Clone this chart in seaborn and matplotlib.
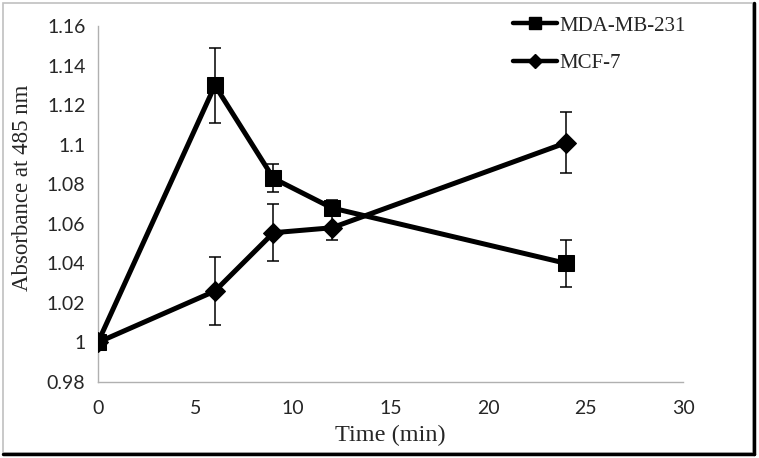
import pandas as pd
import matplotlib.pyplot as plt
import seaborn as sns
from matplotlib.patches import Rectangle
from matplotlib.lines import Line2D

time_min = [0, 6, 9, 12, 24]
mda_mb_231 = [1.000, 1.130, 1.083, 1.068, 1.040]
mda_err = [0.0, 0.019, 0.007, 0.004, 0.012]
mcf_7 = [1.000, 1.026, 1.0555, 1.058, 1.101]
mcf_err = [0.0, 0.017, 0.0145, 0.006, 0.0155]

series_names = ["MDA-MB-231", "MCF-7"]

df = pd.DataFrame({
    "time": time_min * 2,
    "absorbance": mda_mb_231 + mcf_7,
    "err": mda_err + mcf_err,
    "cell": [series_names[0]] * len(time_min) + [series_names[1]] * len(time_min),
})

sns.set_style("white")
plt.rcParams['font.family'] = ['Liberation Serif', 'DejaVu Sans']

fig = plt.figure(figsize=(7.59, 4.58), dpi=100)
ax = fig.add_axes([0.129, 0.166, 0.771, 0.777])

for name in series_names:
    sub = df[df.cell == name]
    ax.errorbar(sub.time, sub.absorbance, yerr=sub.err, fmt='none',
                ecolor='black', elinewidth=1.1, capsize=4.5, capthick=1.1, zorder=2)

# MCF-7 first so the MDA square sits on top at t=0
sns.lineplot(data=df, x="time", y="absorbance", style="cell", style_order=["MCF-7", "MDA-MB-231"],
             markers={"MDA-MB-231": "s", "MCF-7": "D"},
             dashes=False, color="black", linewidth=3.6, markersize=11.5, markeredgecolor="black",
             ax=ax, legend=False, zorder=3)
for ln in ax.lines:
    if ln.get_marker() == "D":
        ln.set_markersize(10)

ax.set_xlim(0, 30)
ax.set_ylim(0.98, 1.16)
ax.set_xticks([0, 5, 10, 15, 20, 25, 30])
ax.set_yticks([0.98, 1.0, 1.02, 1.04, 1.06, 1.08, 1.1, 1.12, 1.14, 1.16])
ax.set_yticklabels(["0.98", "1", "1.02", "1.04", "1.06", "1.08", "1.1", "1.12", "1.14", "1.16"])
for lab in ax.get_xticklabels() + ax.get_yticklabels():
    lab.set_fontfamily("Lato")
    lab.set_fontsize(14)
ax.tick_params(axis='both', direction='out', length=5, width=1, color='#b0b0b0', pad=4)
ax.tick_params(axis='x', pad=8)
for s in ["top", "right"]:
    ax.spines[s].set_visible(False)
for s in ["left", "bottom"]:
    ax.spines[s].set_color('#b0b0b0')
    ax.spines[s].set_linewidth(1)

ax.set_xlabel("Time (min)", fontsize=17.5, labelpad=6)
ax.set_ylabel("Absorbance at 485 nm", fontsize=16.5)
ax.yaxis.set_label_coords(-0.111, 0.545)

handles = [Line2D([], [], color='black', lw=3.2, marker='s', markersize=9),
           Line2D([], [], color='black', lw=3.2, marker='D', markersize=7)]
ax.legend(handles, series_names, loc='upper left', bbox_to_anchor=(513 / 759, 0.965),
          bbox_transform=fig.transFigure, frameon=False, borderpad=0, borderaxespad=0,
          fontsize=15, handlelength=2.1, handletextpad=0.15, labelspacing=0.85)

# chart border with shadow
fig.patches.append(Rectangle((0.004, 0.01), 0.988, 0.983, transform=fig.transFigure, fill=False,
                             edgecolor='#c0c0c0', linewidth=1.2))
fig.add_artist(Line2D([0.994, 0.994], [0.008, 0.993], transform=fig.transFigure, color='black', lw=2.5))
fig.add_artist(Line2D([0.004, 0.994], [0.008, 0.008], transform=fig.transFigure, color='black', lw=2.5))

fig.savefig("out.png", dpi=100)
